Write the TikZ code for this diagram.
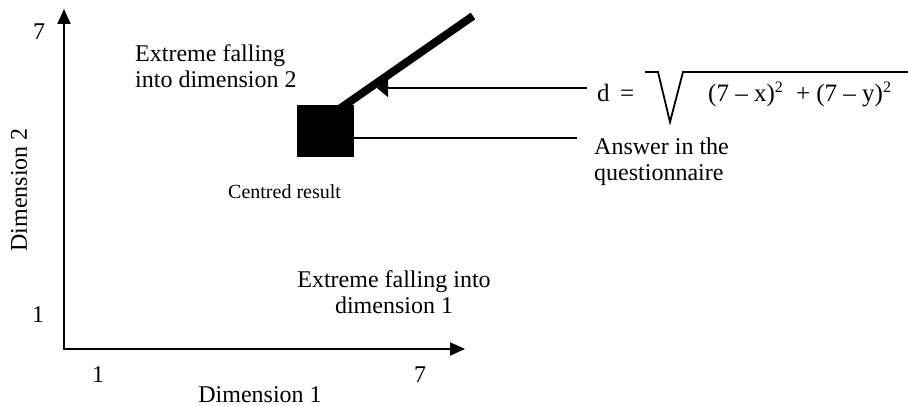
\documentclass[tikz,border=0pt]{standalone}
\usepackage{fontspec}
\setmainfont{Liberation Serif}
\usetikzlibrary{arrows.meta}
\newcommand{\mysq}{\raisebox{9pt}{\fontsize{16}{16}\selectfont 2}}
\begin{document}
\begin{tikzpicture}[x=1pt,y=-1pt,
  lbl/.style={inner sep=0, font=\fontsize{24}{26}\selectfont},
  formlbl/.style={inner sep=0, font=\fontsize{25}{27}\selectfont},
  smalllbl/.style={inner sep=0, font=\fontsize{20}{22}\selectfont},
  axisline/.style={line width=2pt, {Triangle[length=15pt,width=13pt]}-{Triangle[length=15pt,width=13pt]}},
  conn/.style={line width=1.3pt}]
\useasboundingbox (0,0) rectangle (908,406);
% axes
\coordinate (O) at (64,349);
\coordinate (ytip) at (64,9);
\coordinate (xtip) at (465,349);
\draw[axisline] (ytip) -- (O) -- (xtip);
% axis labels
\node[lbl, anchor=base] (y7) at (39,40) {7};
\node[lbl, anchor=base] (y1) at (38,322) {1};
\node[lbl, anchor=base] (x1) at (98,382) {1};
\node[lbl, anchor=base] (x7) at (420,382) {7};
\node[lbl, anchor=base] (xlab) at (260,402) {Dimension 1};
\node[lbl, anchor=base, rotate=90] (ylab) at (27,190) {Dimension 2};
% texts
\node[lbl, align=left, anchor=base west] (ext2) at (135,88) {Extreme falling\\into dimension 2};
\node[lbl, align=center, anchor=base] (ext1) at (394,313) {Extreme falling into\\dimension 1};
\node[smalllbl, anchor=base west] (cent) at (228,199) {Centred result};
\node[lbl, align=left, anchor=base west] (ans) at (594,181) {Answer in the\\questionnaire};
% formula
\node[formlbl, anchor=base west] (deq) at (597,102) {d\, =};
\node[formlbl, anchor=base west] (form) at (708,102) {(7 – x)\mysq{} \;+ (7 – y)\mysq};
\coordinate (r1) at (645,72);
\coordinate (r2) at (658,72);
\coordinate (r3) at (670,122);
\coordinate (r4) at (683,72);
\coordinate (r5) at (908,72);
\draw[line width=1.8pt, line join=miter] (r1) -- (r2) -- (r3) -- (r4) -- (r5);
% square
\node[fill=black, minimum width=57pt, minimum height=52pt, inner sep=0, anchor=north west] (sq) at (297,105) {};
% connectors
\coordinate (a1) at (587,88);
\coordinate (a2) at (377,88);
\draw[conn, -{Triangle[length=11pt,width=18pt]}] (a1) -- (a2);
\coordinate (b1) at (577,138);
\draw[conn] (b1 -| sq.east) -- (b1);
% thick line
\coordinate (t1) at (340,108.5);
\coordinate (t2) at (473,16);
\draw[line width=8pt] (t1) -- (t2);
\end{tikzpicture}
\end{document}
